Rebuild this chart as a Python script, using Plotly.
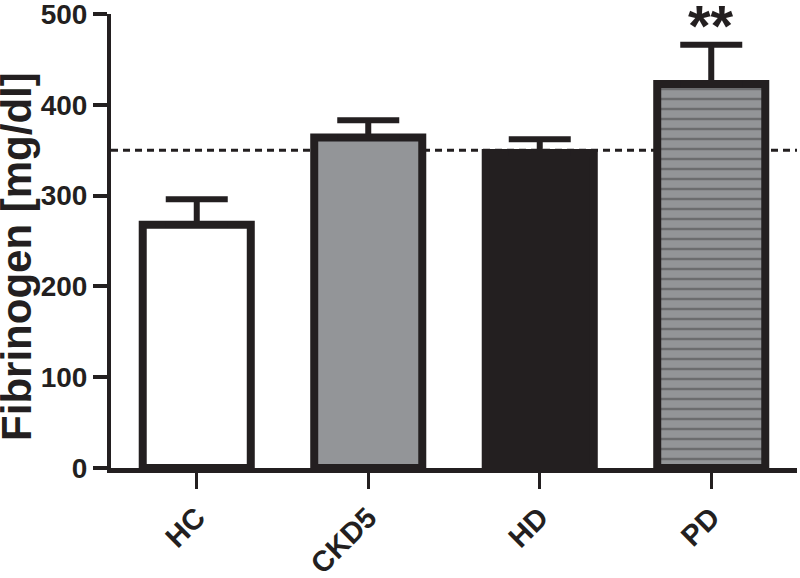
import plotly.graph_objects as go

groups = ["HC", "CKD5", "HD", "PD"]
means = [268, 364, 347, 423]
sem = [28, 19, 15, 43]
fills = ["#ffffff", "#939598", "#231f20", "#939598"]
patterns = ["", "", "", "-"]
reference_level = 350
y_ticks = [0, 100, 200, 300, 400, 500]

ink = "#231f20"
font_family = "Liberation Sans, Arial, Helvetica, sans-serif"

fig = go.Figure()

fig.add_trace(go.Bar(
    x=groups, y=means, width=0.63,
    marker=dict(color=fills, line=dict(color=ink, width=8),
                pattern=dict(shape=patterns, fgcolor=ink, size=10,
                             solidity=0.25, fillmode="overlay")),
    error_y=dict(type="data", symmetric=False, array=sem,
                 arrayminus=[0, 0, 0, 0], color=ink, thickness=6, width=31),
    showlegend=False,
))

fig.add_shape(type="line", xref="paper", x0=0, x1=1, yref="y",
              y0=reference_level, y1=reference_level, layer="below",
              line=dict(color=ink, width=3, dash="7px,5px"))

fig.add_annotation(x="PD", y=means[3] + sem[3], text="**", showarrow=False,
                   yanchor="bottom", yshift=-15,
                   font=dict(size=58, color=ink, family=font_family, weight="bold"))

# y title as an annotation: it sits a little below the middle of the axis
fig.add_annotation(text="Fibrinogen [mg/dl]", textangle=-90, showarrow=False,
                   xref="paper", x=0, xanchor="center", xshift=-94,
                   yref="paper", y=0.465, yanchor="middle",
                   font=dict(size=42, color=ink, family=font_family, weight="bold"))

fig.update_layout(
    width=800, height=578,
    margin=dict(l=111, r=3, t=14, b=110),
    plot_bgcolor="white", paper_bgcolor="white",
    font=dict(family=font_family, color=ink),
)
fig.update_xaxes(
    range=[-0.5, 3.5], showline=True, linewidth=5, linecolor=ink,
    ticks="outside", ticklen=16, tickwidth=3, tickcolor=ink,
    tickangle=-45, tickfont=dict(size=29, family=font_family, color=ink, weight="bold"),
    showgrid=False, zeroline=False, automargin=False,
)
fig.update_yaxes(
    range=[0, 500], tickvals=y_ticks, showline=True, linewidth=4, linecolor=ink,
    ticks="outside", ticklen=14, tickwidth=4, tickcolor=ink,
    tickfont=dict(size=28, family=font_family, color=ink, weight="bold"),
    showgrid=False, zeroline=False, automargin=False, ticklabeloverflow="allow",
)

# drop the default 8px page margin so the figure fills the window
fig.write_html("out.html", config={"displayModeBar": False},
               post_script="document.body.style.margin='0';")
